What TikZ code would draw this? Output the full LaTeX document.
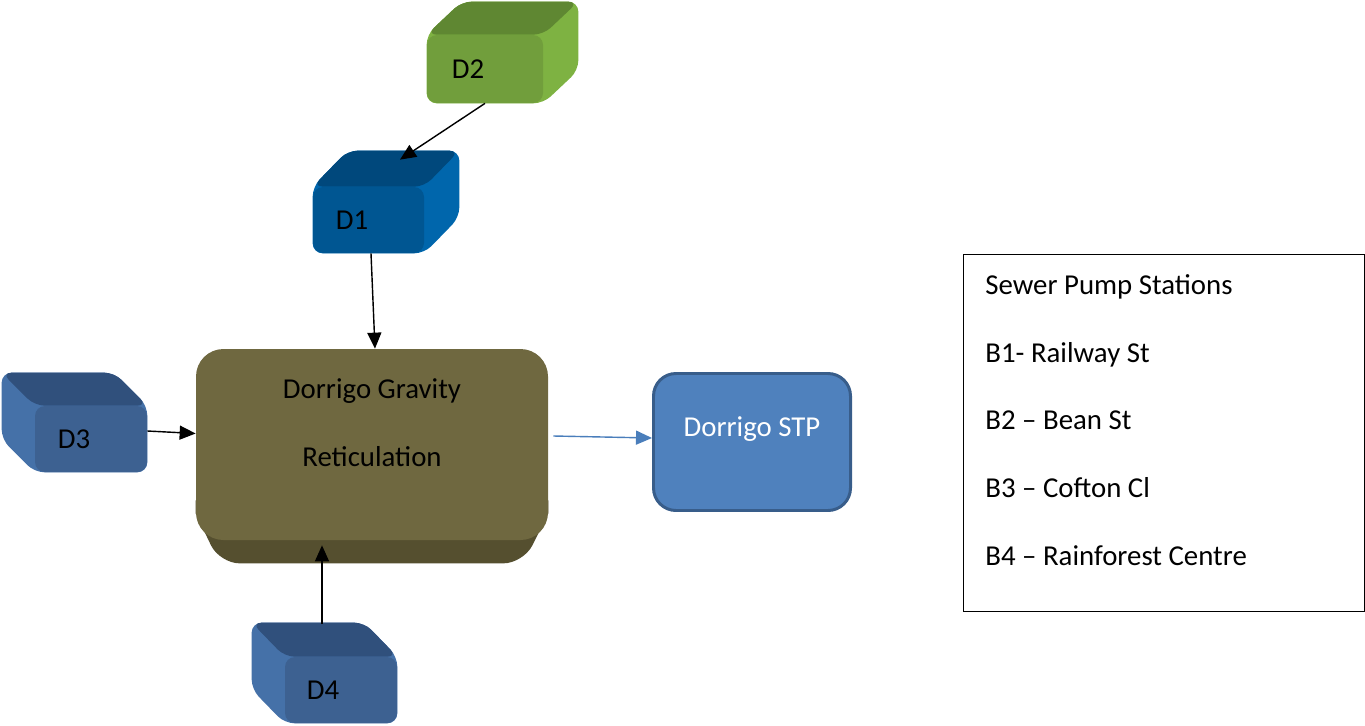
\documentclass[tikz,border=0pt]{standalone}
\usepackage{fontspec}
\setmainfont{Carlito}
\usepackage{xcolor}
\usepackage{tikz}
\usetikzlibrary{shapes, arrows.meta, positioning, calc, backgrounds}
\definecolor{greenfront}{RGB}{113,158,60}
\definecolor{greentop}{RGB}{95,135,50}
\definecolor{greenside}{RGB}{126,178,66}
\definecolor{navyfront}{RGB}{0,86,146}
\definecolor{navytop}{RGB}{0,72,124}
\definecolor{navyside}{RGB}{0,102,172}
\definecolor{steelfront}{RGB}{61,97,145}
\definecolor{steeltop}{RGB}{48,80,124}
\definecolor{steelside}{RGB}{69,113,168}
\definecolor{olivefront}{RGB}{111,104,64}
\definecolor{olivebase}{RGB}{85,79,47}
\definecolor{plantfill}{RGB}{79,129,189}
\definecolor{plantedge}{RGB}{56,93,138}
\definecolor{flowblue}{RGB}{74,126,187}

\begin{document}
\begin{tikzpicture}
  [
    font=\fontsize{16.4}{38.6}\selectfont,
    Face/.style={rounded corners=2mm, minimum width=2.24cm, minimum height=1.32cm, inner sep=0pt},
    Green/.style={Face, fill=greenfront, minimum width=2.32cm, minimum height=1.36cm},
    Navy/.style={Face, fill=navyfront, minimum width=2.22cm},
    Steel/.style={Face, fill=steelfront},
    Olive/.style={rounded corners=5.5mm, fill=olivefront, minimum width=7.04cm, minimum height=3.82cm},
    Plant/.style={rounded corners=4.5mm, draw=plantedge, line width=1.7pt, fill=plantfill, minimum width=3.94cm, minimum height=2.74cm},
    Legend/.style={draw=black, line width=0.8pt, minimum width=8.01cm, minimum height=7.13cm},
    Flow/.style={-{Triangle[length=3.2mm, width=2.8mm]}, draw, thick}
  ]
  \useasboundingbox (0,0) rectangle (27.3,-14.52);
  % Nodes
  \node[Green, label={[xshift=-3.4mm]center:D2}] (d2) at (9.7, -1.38) {};
  \node[Navy, label={[xshift=-3.3mm]center:D1}] (d1) at (7.37, -4.4) {};
  \node[Steel, label={[xshift=-3.4mm]center:D3}] (d3) at (1.82, -8.78) {};
  \node[Steel, label={[xshift=-3.6mm]center:D4}] (d4) at (6.82, -13.8) {};
  \node[Olive] (grav) at (7.44, -8.89) {};
  \node[align=center, anchor=north] (gravtext) at ([yshift=-4.8mm]grav.north) {Dorrigo Gravity\\Reticulation};
  \node[Plant, label={[yshift=2.6mm, text=white]center:Dorrigo STP}] (stp) at (15.04, -8.84) {};
  \node[Legend] (legend) at (23.28, -8.66) {};
  \node[align=left, anchor=north west, inner sep=0pt] (legendtext) at ([shift={(4.4mm,-4mm)}]legend.north west)
    {Sewer Pump Stations\\B1- Railway St\\B2 – Bean St\\B3 – Cofton Cl\\B4 – Rainforest Centre};
  % Faces
  \begin{scope}[on background layer]
    \fill[greenside, rounded corners=2mm] (d2.south west) -- (d2.north west) -- ++(0.7,0.66)
      -- ($(d2.north east)+(0.7,0.66)$) -- ($(d2.south east)+(0.7,0.66)$) -- (d2.south east) -- cycle;
    \fill[greentop, rounded corners=2mm] (d2.north west) -- ++(0.7,0.66) -- ($(d2.north east)+(0.7,0.66)$) -- (d2.north east) -- cycle;
    \fill[navyside, rounded corners=2mm] (d1.south west) -- (d1.north west) -- ++(0.7,0.72)
      -- ($(d1.north east)+(0.7,0.72)$) -- ($(d1.south east)+(0.7,0.72)$) -- (d1.south east) -- cycle;
    \fill[navytop, rounded corners=2mm] (d1.north west) -- ++(0.7,0.72) -- ($(d1.north east)+(0.7,0.72)$) -- (d1.north east) -- cycle;
    \fill[steelside, rounded corners=2mm] (d3.south east) -- (d3.south west) -- ++(-0.66,0.66)
      -- ($(d3.north west)+(-0.66,0.66)$) -- ($(d3.north east)+(-0.66,0.66)$) -- (d3.north east) -- cycle;
    \fill[steeltop, rounded corners=2mm] (d3.north west) -- ++(-0.66,0.66) -- ($(d3.north east)+(-0.66,0.66)$) -- (d3.north east) -- cycle;
    \fill[steelside, rounded corners=2mm] (d4.south east) -- (d4.south west) -- ++(-0.66,0.68)
      -- ($(d4.north west)+(-0.66,0.68)$) -- ($(d4.north east)+(-0.66,0.68)$) -- (d4.north east) -- cycle;
    \fill[steeltop, rounded corners=2mm] (d4.north west) -- ++(-0.66,0.68) -- ($(d4.north east)+(-0.66,0.68)$) -- (d4.north east) -- cycle;
    \fill[olivebase] ($(grav.south west)+(0,0.8)$) -- ($(grav.south west)+(0,0.54)$) [rounded corners=4mm]
      -- ($(grav.south west)+(0.48,-0.46)$) -- ($(grav.south east)+(-0.5,-0.46)$) [sharp corners]
      -- ($(grav.south east)+(0,0.54)$) -- ($(grav.south east)+(0,0.8)$) -- cycle;
  \end{scope}
  \coordinate (d1top) at ($(d1.north)+(0.63,0.54)$);
  \coordinate (d4top) at ($(d4.north)+(-0.38,0.66)$);
  % Lines
  \path [Flow] (d2.south) -- (d1top);
  \path [Flow] ([xshift=0.5mm]d1.south) -- ([xshift=0.6mm]grav.north);
  \path [Flow] ([yshift=1.6mm]d3.east) -- ([yshift=2.2mm]grav.west);
  \path [Flow] (d4top) -- ($(d4top |- grav.south)+(0,-0.1)$);
  \path [draw=flowblue, thick, -{Triangle[length=3.2mm, width=2.8mm]}] ([shift={(1mm,1.7mm)}]grav.east) -- ([yshift=0.8mm]stp.west);
\end{tikzpicture}
\end{document}
